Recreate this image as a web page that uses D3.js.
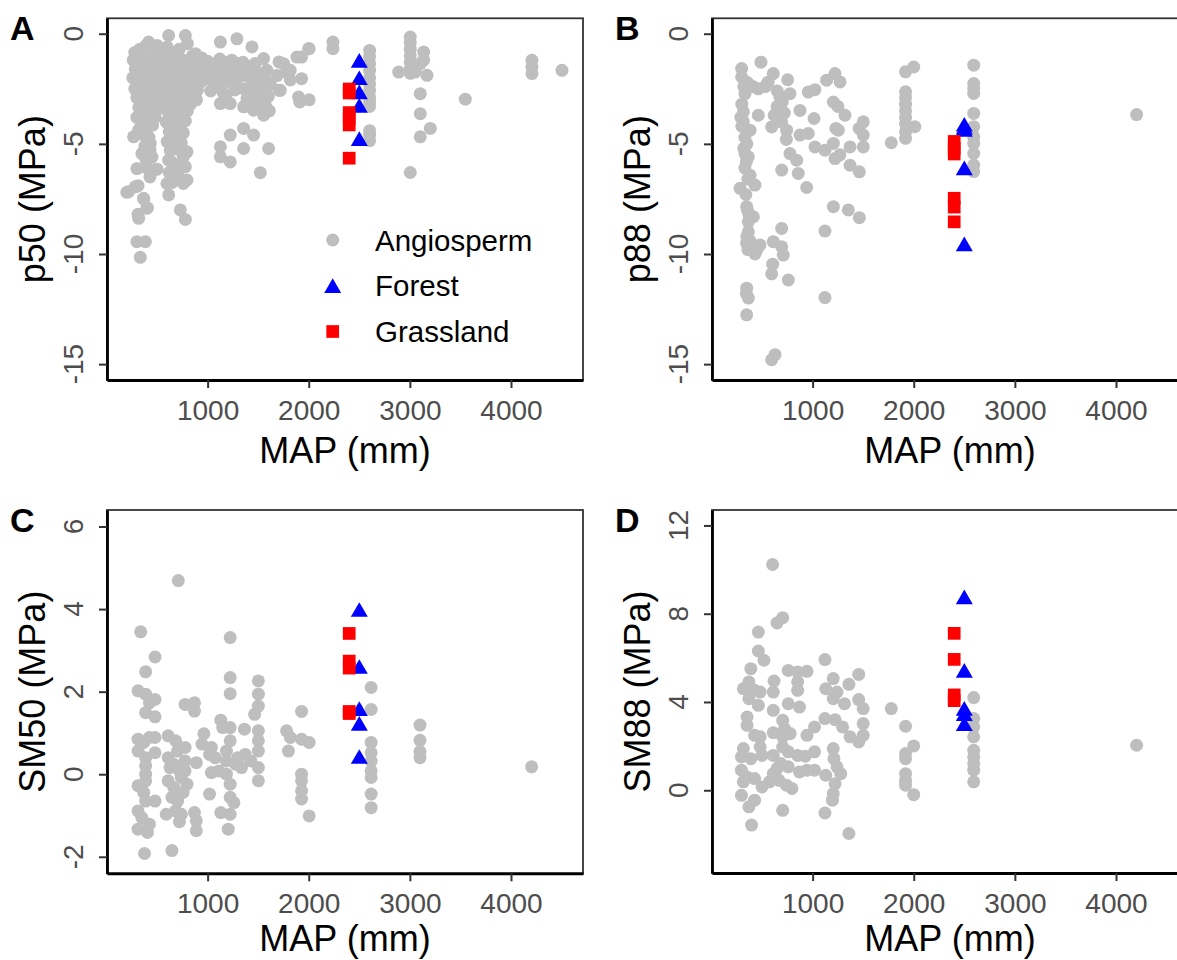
<!DOCTYPE html>
<html><head><meta charset="utf-8">
<script src="https://cdn.jsdelivr.net/npm/d3@7"></script>
<style>
body{margin:0;background:#fff}
svg{display:block}
text{font-family:"Liberation Sans",Arial,Helvetica,sans-serif}
</style>
</head><body>
<svg id="chart" width="1177" height="960"></svg>
<script>
// ---------------- DATA ----------------
const xTicks = [1000, 2000, 3000, 4000];
const yTicksP50 = [0, -5, -10, -15];
const yTicksP88 = [0, -5, -10, -15];
const yTicksSM50 = [-2, 0, 2, 4, 6];
const yTicksSM88 = [0, 4, 8, 12];
const legendLabels = ["Angiosperm", "Forest", "Grassland"];

// Panel A: p50 vs MAP
const angioA = [
 [201,-7.2],[312,-6.9],[368,-7.5],[312,-8.2],[405,-7.9],[318,-8.38],[301,-9.44],[384,-9.44],[334,-10.15],[219,-7.17],[285,-6.95],[367,-7.47],[400,-7.92],
 [417,-0.38],[615,-0.08],[780,-0.08],[1126,-0.38],[1290,-0.23],[1438,-0.6],[1554,-1.13],[1752,-1.36],[1883,-1.06],[499,-0.53],[880,-0.91],
 [268,-4.68],[318,-4.38],[433,-4.98],[350,-5.44],[301,-6.12],[466,-6.19],
 [615,-7.32],[730,-8.0],[780,-8.43],[615,-5.74],[796,-5.36],[780,-6.04],[796,-6.64],[598,-6.8],[713,-6.49],
 [1126,-5.13],[1126,-5.59],[1224,-5.82],[1224,-4.6],[1356,-4.3],[1455,-4.6],[1356,-5.21],[1603,-5.21],[1521,-6.31],
 [1126,-3.17],[1224,-3.17],[1356,-3.32],[1455,-3.47],[1554,-3.7],[1389,-2.95],[1570,-3.25],[1719,-2.57],[1686,-1.9],[1817,-1.66],[1899,-2.87],[1504,-2.27],[1587,-1.66],
 [1706,-1.28],[1781,-1.74],[1818,-2.1],[1706,-2.57],[1929,-2.04],[1929,-1.06],[2004,-0.68],[1911,-3.1],[2004,-3.0],
 [1999,-0.68],[2239,-0.38],[2239,-0.68],
 [2602,-0.76],[2602,-1.06],[2602,-1.36],[2602,-1.66],[2602,-2.0],[2602,-2.27],[2602,-2.57],[2602,-2.87],[2602,-3.1],[2602,-3.3],[2602,-4.4],[2602,-4.6],[2602,-4.85],
 [3004,-0.15],[3004,-0.4],[3004,-0.7],[3004,-1.0],[3004,-1.3],[3004,-1.6],[3004,-1.8],
 [3136,-0.83],[3136,-1.2],[2889,-1.74],[3053,-1.74],[3169,-1.89],[3103,-1.36],[3103,-2.72],[3103,-3.63],[3202,-4.3],[3103,-4.68],[3004,-6.3],[3548,-2.97],
 [4207,-1.21],[4207,-1.51],[4207,-1.81],[4504,-1.66],
 [280,-0.85],[330,-0.7],[390,-0.55],[450,-0.75],[510,-0.8],
 [265,-1.2],[320,-1.1],[375,-1.25],[430,-1.05],[490,-1.2],[540,-1.0],
 [285,-1.6],[345,-1.55],[400,-1.7],[460,-1.5],[520,-1.65],
 [260,-2.0],[310,-2.1],[370,-1.95],[425,-2.15],[480,-2.0],[535,-2.1],
 [280,-2.5],[340,-2.45],[395,-2.6],[455,-2.4],[510,-2.55],
 [300,-2.9],[360,-3.0],[420,-2.85],[475,-3.05],[530,-2.95],
 [320,-3.35],[380,-3.4],[440,-3.3],[500,-3.45],
 [300,-3.8],[360,-3.75],[420,-3.9],[480,-3.8],
 [340,-4.2],[400,-4.25],[455,-4.15],
 [370,-4.6],[420,-4.7],
 [380,-5.1],[430,-5.3],[390,-5.7],[450,-5.6],[400,-6.1],[500,-6.15],[430,-6.5],
 [600,-0.6],[660,-0.9],[720,-0.7],[800,-0.45],[850,-1.0],
 [580,-1.3],[640,-1.15],[700,-1.35],[760,-1.2],[820,-1.4],
 [600,-1.75],[660,-1.6],[720,-1.8],[780,-1.65],[840,-1.85],
 [570,-2.2],[630,-2.1],[690,-2.25],[750,-2.05],[810,-2.3],
 [600,-2.65],[660,-2.55],[720,-2.7],[790,-2.6],[850,-2.75],
 [580,-3.1],[640,-3.0],[700,-3.15],[760,-3.05],[830,-3.2],
 [610,-3.55],[670,-3.45],[740,-3.6],[800,-3.5],
 [590,-4.0],[650,-3.9],[720,-4.05],[780,-3.95],
 [620,-4.45],[690,-4.35],[760,-4.5],
 [600,-4.9],[660,-4.85],[740,-4.95],
 [630,-5.3],[700,-5.25],[760,-5.6],
 [650,-5.85],[720,-5.95],
 [620,-6.3],[690,-6.4],[760,-6.8],[650,-6.75],
 [880,-1.3],[940,-1.1],[1000,-1.25],[1060,-1.4],[1120,-1.15],[1180,-1.3],[1240,-1.2],[1300,-1.35],
 [900,-1.7],[960,-1.6],[1020,-1.8],[1080,-1.65],[1140,-1.75],[1200,-1.6],[1260,-1.8],[1320,-1.7],
 [870,-2.1],[930,-2.2],[990,-2.05],[1050,-2.15],[1110,-2.25],[1170,-2.1],[1230,-2.2],[1290,-2.05],
 [900,-2.55],[1030,-2.6],[1150,-2.65],[1270,-2.55],[890,-3.0],[1180,-2.9],
 [1350,-1.3],[1410,-1.5],[1470,-1.35],[1380,-1.9],[1440,-2.1],[1500,-1.8],[1560,-2.0],[1620,-2.3],
 [1360,-2.5],[1420,-2.6],[1480,-2.8],[1540,-2.6],[1600,-2.85],[1450,-3.1],[1520,-3.05],[1610,-3.5]
];
const forestA = [[2500,-1.32],[2500,-2.11],[2500,-2.75],[2500,-3.36],[2500,-4.87]];
const grassA = [[2400,-2.51],[2400,-2.69],[2400,-3.58],[2400,-3.85],[2400,-4.14],[2400,-5.65]];

// Panel B: p88 vs MAP
const angioB = [
 [298,-1.58],[298,-1.96],[489,-1.29],[611,-1.81],[753,-2.09],[364,-2.27],[463,-2.5],[331,-2.72],[677,-2.87],[776,-2.72],
 [957,-2.65],[1023,-2.54],[1138,-2.11],[1221,-1.81],[1271,-2.19],[1205,-3.1],[315,-3.55],[315,-4.0],[463,-3.7],[381,-4.38],
 [595,-4.23],[694,-4.0],[743,-4.38],[875,-3.48],[875,-4.6],[957,-4.53],[1014,-3.85],[1023,-5.14],[1122,-5.29],[1221,-5.67],
 [1254,-4.38],[1205,-4.98],[1320,-3.7],[1370,-5.14],[1501,-4.0],[1501,-4.6],[1501,-5.14],[1370,-5.97],[1462,-6.27],
 [331,-5.44],[364,-5.59],[776,-5.44],[842,-5.74],[858,-6.34],[694,-6.19],[941,-6.98],[381,-6.42],[430,-6.87],[282,-7.02],
 [348,-7.85],[364,-8.54],[414,-8.31],[364,-8.99],[348,-9.51],[447,-9.82],[480,-9.59],[611,-9.44],[694,-9.67],[710,-10.05],
 [694,-8.84],[1122,-8.96],[1205,-7.85],[1353,-8.0],[1462,-8.35],[605,-10.46],[595,-10.9],[760,-11.18],[348,-11.55],[364,-12.0],
 [348,-12.76],[628,-14.57],[595,-14.8],[1122,-11.98],
 [290,-3.8],[300,-4.2],[330,-4.7],[350,-5.0],[320,-5.2],[345,-5.8],[330,-6.1],[360,-6.6],[340,-7.3],[355,-8.0],[370,-8.2],
 [350,-9.2],[360,-9.8],[400,-9.7],[380,-9.4],[430,-10.0],[345,-11.8],[300,-3.2],[320,-2.4],[350,-2.2],[410,-2.4],[530,-2.4],
 [560,-2.2],[650,-2.6],[700,-3.1],[650,-3.3],[720,-3.6],[620,-3.7],[1230,-4.3],[1270,-5.5],[1250,-3.3],[1460,-4.3],[740,-4.8],
 [1778,-4.95],[1919,-1.73],[2000,-1.51],[1919,-2.64],[1919,-2.9],[1919,-3.2],[1919,-3.5],[1919,-3.8],[1919,-4.1],[1919,-4.45],[1919,-4.75],[2011,-4.22],
 [2593,-1.43],[2593,-2.26],[2593,-2.49],[2593,-2.71],[2593,-3.62],[2593,-4.22],[2593,-4.68],[2593,-4.98],[2593,-5.43],[2593,-5.96],[2593,-6.26],
 [4204,-3.67]
];
const forestB = [[2500,-4.22],[2500,-4.35],[2500,-4.46],[2500,-6.2],[2500,-9.65]];
const grassB = [[2400,-4.89],[2400,-5.2],[2400,-5.46],[2400,-7.47],[2400,-7.87],[2400,-8.54]];

// Panel C: SM50 vs MAP
const angioC = [
 [710,4.69],[338,3.45],[1223,3.31],[480,2.84],[387,2.48],[1223,2.34],[1223,1.95],[1502,2.26],[1502,1.94],[1502,1.65],[1465,1.45],
 [312,2.02],[387,1.94],[424,1.73],[480,1.81],[387,1.49],[480,1.39],[777,1.69],[870,1.73],[870,1.53],[1929,1.52],[2617,2.1],[2617,1.57],
 [1130,1.31],[1149,1.13],[1223,1.13],[1364,1.09],[1502,1.05],[963,0.98],[1781,1.05],[1818,0.89],[1799,0.56],[1929,0.85],[2004,0.77],
 [3100,1.19],[3100,0.82],[3100,0.55],[3100,0.4],[4204,0.18],
 [2617,0.77],[2617,0.52],[2617,0.32],[2617,0.08],[2617,-0.08],[2617,-0.48],[2617,-0.81],
 [1929,0.0],[1929,-0.16],[1929,-0.4],[1929,-0.6],[2004,-1.01],
 [312,0.85],[312,0.56],[368,0.77],[424,0.89],[480,0.89],[387,0.4],[387,0.2],[387,0.0],[387,-0.16],[312,-0.28],[368,-0.44],
 [387,-0.65],[480,-0.65],[312,-0.89],[349,-1.05],[424,-1.21],[312,-1.33],[405,-1.41],[376,-1.92],[480,0.52],[610,0.93],[647,-1.85],
 [610,0.4],[628,0.16],[610,-0.16],[591,-0.97],[684,0.81],[703,0.56],[665,0.24],[721,0.08],[665,-0.32],[740,-0.08],[777,0.65],
 [777,0.32],[758,-0.44],[703,-0.65],[684,-0.89],[721,-1.15],[796,-0.24],[777,0.08],[647,-0.56],[740,-0.97],
 [888,0.28],[870,-0.93],[888,-1.13],[888,-1.37],[944,0.73],[1019,0.48],[1037,0.04],[1019,-0.48],[1074,0.4],[1112,0.08],[1130,-0.93],
 [1186,0.0],[1223,-0.24],[1223,-0.56],[1260,-0.69],[1223,-0.97],[1204,-1.33],[1186,0.56],[1223,0.81],[1279,0.24],[1297,0.4],
 [1372,0.48],[1428,0.32],[1502,0.56],[1502,0.16],[1502,-0.16],[1502,0.81],[1335,0.16],[1186,0.32],[1037,0.65]
];
const forestC = [[2500,3.93],[2500,2.55],[2500,1.53],[2500,1.17],[2500,0.37]];
const grassC = [[2400,3.41],[2400,2.74],[2400,2.57],[2400,1.52],[2400,1.47]];

// Panel D: SM88 vs MAP
const angioD = [
 [604,10.23],[648,7.58],[704,7.82],[463,7.17],[463,6.31],[519,5.89],[1122,5.92],[389,5.51],[759,5.43],[852,5.36],[944,5.39],
 [1456,5.25],[1204,5.06],[619,4.95],[611,4.45],[852,4.91],[852,4.53],[1359,4.8],[1130,4.6],[1241,4.45],[1204,4.15],[1315,3.92],
 [1456,4.11],[1500,3.7],[870,3.77],[759,3.92],[315,4.6],[370,4.91],[426,4.53],[481,4.45],[370,4.15],[463,3.85],[611,3.62],
 [352,3.32],[352,2.94],[426,2.49],[481,2.42],[611,2.61],[704,3.17],[704,2.42],[722,2.79],[778,2.57],[944,2.49],[1019,2.87],
 [1122,3.25],[1222,3.2],[1296,2.87],[1370,2.42],[1456,2.19],[1500,2.49],[1500,3.02],
 [315,1.89],[296,1.51],[389,1.43],[481,1.96],[500,1.58],[611,1.58],[704,1.96],[759,1.74],[685,1.21],[759,1.06],[852,1.58],
 [926,1.54],[1019,1.74],[944,0.91],[870,0.83],[1019,0.91],[1130,0.68],[1204,1.89],[1211,1.43],[1241,1.06],[1278,0.75],[1222,0.3],
 [1204,-0.15],[1196,-0.45],[1122,-1.03],[1359,-1.96],[296,0.91],[315,0.38],[352,0.6],[426,0.53],[500,0.15],[296,-0.23],[370,-0.75],
 [426,-0.45],[396,-1.58],[704,-0.91],[611,0.75],[667,0.45],[741,0.23],[796,0.08],[648,0.98],[574,0.38],
 [1778,3.7],[1919,2.9],[1919,1.66],[1919,1.43],[2000,2.01],[1919,0.75],[1919,0.45],[1919,0.23],[2000,-0.2],
 [2593,4.2],[2593,3.25],[2593,2.87],[2593,2.42],[2593,1.81],[2593,1.51],[2593,1.21],[2593,0.91],[2593,0.38],
 [4204,2.04]
];
const forestD = [[2500,8.65],[2500,5.32],[2500,3.6],[2500,3.36],[2500,2.91]];
const grassD = [[2400,7.11],[2400,5.93],[2400,4.32],[2400,4.06]];

// ---------------- LAYOUT ----------------
const xDomain = [5, 4712];
const panels = [
  {tag:"A", yTitle:"p50 (MPa)",  yTicks:yTicksP50,  yDomain:[-15.72,0.7], angio:angioA, forest:forestA, grass:grassA, left:107, top:18.3, w:476, h:361.7, xTitleOff:83, legend:true},
  {tag:"B", yTitle:"p88 (MPa)",  yTicks:yTicksP88,  yDomain:[-15.72,0.7], angio:angioB, forest:forestB, grass:grassB, left:712, top:18.3, w:476, h:361.7, xTitleOff:83},
  {tag:"C", yTitle:"SM50 (MPa)", yTicks:yTicksSM50, yDomain:[-2.4,6.4],   angio:angioC, forest:forestC, grass:grassC, left:107, top:510,  w:476, h:363.3, xTitleOff:78},
  {tag:"D", yTitle:"SM88 (MPa)", yTicks:yTicksSM88, yDomain:[-3.75,12.7], angio:angioD, forest:forestD, grass:grassD, left:712, top:510,  w:476, h:363, xTitleOff:78}
];
const COL_GREY = "#BEBEBE", COL_BLUE = "#0000FF", COL_RED = "#FF0000";
const R_CIRCLE = 6.5, SQ = 12.7;
const triPath = "M0,-9.8L8.5,4.9L-8.5,4.9Z";

const svg = d3.select("#chart");
svg.append("rect").attr("width",1177).attr("height",960).attr("fill","#fff");

function fmt(v){ return String(v); }

panels.forEach(p => {
  const g = svg.append("g").attr("transform", `translate(${p.left},${p.top})`);
  const x = d3.scaleLinear().domain(xDomain).range([0, p.w]);
  const y = d3.scaleLinear().domain(p.yDomain).range([p.h, 0]);

  // panel border
  g.append("rect").attr("x",0).attr("y",0).attr("width",p.w).attr("height",p.h)
    .attr("fill","none").attr("stroke","#333").attr("stroke-width",1.8);

  // points
  g.append("g").selectAll("circle").data(p.angio).join("circle")
    .attr("cx", d => x(d[0])).attr("cy", d => y(d[1])).attr("r", R_CIRCLE).attr("fill", COL_GREY);
  g.append("g").selectAll("path").data(p.forest).join("path")
    .attr("d", triPath).attr("transform", d => `translate(${x(d[0])},${y(d[1])})`).attr("fill", COL_BLUE);
  g.append("g").selectAll("rect").data(p.grass).join("rect")
    .attr("x", d => x(d[0]) - SQ/2).attr("y", d => y(d[1]) - SQ/2).attr("width", SQ).attr("height", SQ).attr("fill", COL_RED);

  // x axis
  const xa = g.append("g").attr("transform", `translate(0,${p.h})`)
    .call(d3.axisBottom(x).tickValues(xTicks).tickSize(8).tickSizeOuter(0).tickPadding(12).tickFormat(fmt));
  xa.select(".domain").attr("stroke","#000").attr("stroke-width",2.8);
  xa.selectAll(".tick line").attr("stroke","#333").attr("stroke-width",2);
  xa.selectAll(".tick text").attr("fill","#4D4D4D").style("font-size","28px")
    .style("font-family","'Liberation Sans',Arial,sans-serif");

  // y axis
  const ya = g.append("g")
    .call(d3.axisLeft(y).tickValues(p.yTicks).tickSize(8).tickSizeOuter(0).tickFormat(""));
  ya.select(".domain").attr("stroke","#000").attr("stroke-width",2.8);
  ya.selectAll(".tick line").attr("stroke","#333").attr("stroke-width",2);
  g.append("g").selectAll("text").data(p.yTicks).join("text")
    .attr("transform", d => `translate(-24,${y(d)}) rotate(-90)`)
    .attr("text-anchor","middle").attr("fill","#4D4D4D").style("font-size","28px")
    .text(fmt);

  // axis titles
  g.append("text").attr("x", p.w/2).attr("y", p.h + p.xTitleOff).attr("text-anchor","middle")
    .attr("fill","#000").style("font-size","36px").text("MAP (mm)");
  g.append("text").attr("transform", `translate(-62,${p.h/2}) rotate(-90)`).attr("text-anchor","middle")
    .attr("fill","#000").style("font-size","36px").text(p.yTitle);

  // panel tag
  svg.append("text").attr("x", p.left - 97).attr("y", p.top + 22)
    .attr("fill","#000").style("font-size","34px").style("font-weight","bold").text(p.tag);

  if (p.legend) {
    const lg = svg.append("g");
    const lx = 332.7, ly = [240, 285.7, 331.5], tx = 375;
    lg.append("circle").attr("cx", lx).attr("cy", ly[0]).attr("r", R_CIRCLE).attr("fill", COL_GREY);
    lg.append("path").attr("d", triPath).attr("transform", `translate(${lx},${ly[1]+2.4})`).attr("fill", COL_BLUE);
    lg.append("rect").attr("x", lx - SQ/2).attr("y", ly[2] - SQ/2).attr("width", SQ).attr("height", SQ).attr("fill", COL_RED);
    lg.selectAll("text").data(legendLabels).join("text")
      .attr("x", tx).attr("y", (d,i) => ly[i] + 10.5)
      .attr("fill","#000").style("font-size","29.5px").text(d => d);
  }
});
</script>
</body></html>
